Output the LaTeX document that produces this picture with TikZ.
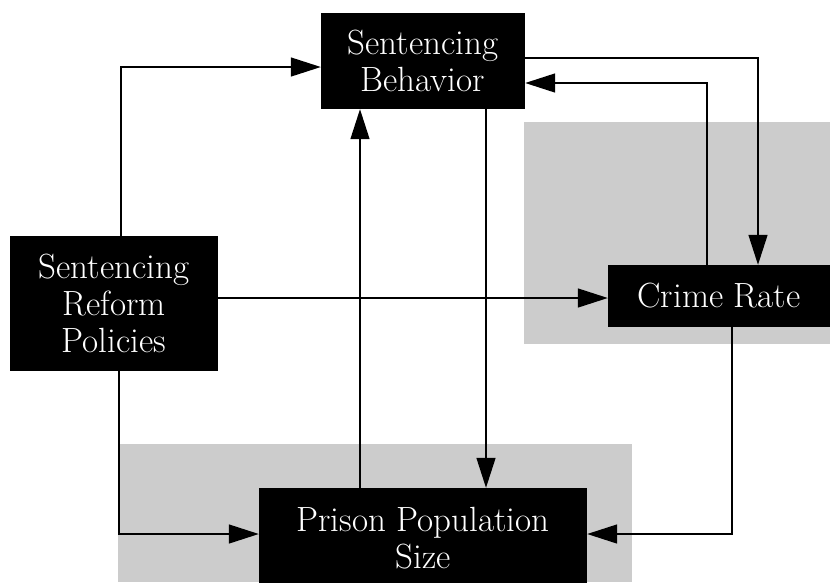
\documentclass[tikz,border=0pt]{standalone}
\usetikzlibrary{arrows.meta}
\usetikzlibrary{calc}

\tikzset{
	factor/.style={fill=black, text=white, inner sep=0pt, align=center,
		font=\fontsize{35}{37}\selectfont},
	link/.style={line width=1.4pt, -{Triangle[length=30pt, width=19pt]}},
	scan/.style={fill=black!20}
}

\begin{document}
\begin{tikzpicture}[x=1pt, y=-1pt]
	% Picture frame
	\clip (0,0) rectangle (830,582);

	% Grey patches of the scanned page
	\fill[scan] (524,122) rectangle (830,344);
	\fill[scan] (118,444) rectangle (632,582);

	% Boxes
	% sentencing behavior (sb), reform policies (srp)
	% crime rate (cr), prison population (pps)
	\node[factor, minimum width=204pt, minimum height=96pt] (sb) at (423,61) {Sentencing\\Behavior};
	\node[factor, minimum width=208pt, minimum height=135pt] (srp) at (114,303.5) {Sentencing\\Reform\\Policies};
	\node[factor, minimum width=222pt, minimum height=62pt] (cr) at (719,296) {Crime Rate};
	\node[factor, minimum width=328pt, minimum height=100pt] (pps) at (423,538) {Prison Population\\Size};

	% Links out of the reform policies
	\draw[link] ($(srp.north)+(7,0)$) |- ($(sb.west)+(0,6)$);
	\draw[link] ($(srp.east)+(0,-5.5)$) -- ($(cr.west)+(0,2)$);
	\draw[link] ($(srp.south)+(5,0)$) |- ($(pps.west)+(0,-4)$);

	% Loop between behavior and crime rate
	\draw[link] ($(sb.east)+(0,-3)$) -| ($(cr.north)+(39,0)$);
	\draw[link] ($(cr.north)+(-12,0)$) |- ($(sb.east)+(0,22)$);
	\draw[link] ($(cr.south)+(13,0)$) |- ($(pps.east)+(0,-4)$);

	% Loop between behavior and prison population
	\draw[link] ($(pps.north)+(-63,0)$) -- ($(sb.south)+(-63,0)$);
	\draw[link] ($(sb.south)+(63,0)$) -- ($(pps.north)+(63,0)$);
\end{tikzpicture}
\end{document}
